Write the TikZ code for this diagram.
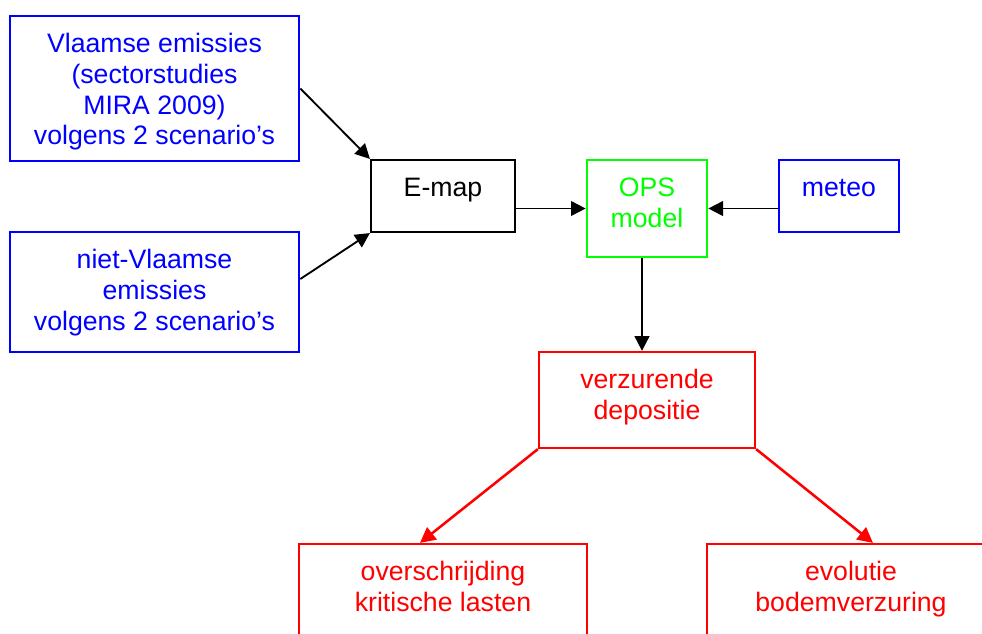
\documentclass[tikz,border=0pt]{standalone}
\usepackage{fontspec}
\setmainfont{Liberation Sans}
\usetikzlibrary{arrows.meta,calc}

\definecolor{boxblue}{RGB}{0,0,255}
\definecolor{boxgreen}{RGB}{0,255,0}
\definecolor{boxred}{RGB}{255,0,0}

\tikzset{
  % box size given in drawing units (1 unit = 0.75pt)
  sz/.style 2 args={minimum width=#1*0.75pt, minimum height=#2*0.75pt},
  frame/.style={draw, rectangle, inner sep=0pt, line width=2pt},
  bluebox/.style={frame, draw=boxblue},
  greenbox/.style={frame, draw=boxgreen},
  redbox/.style={frame, draw=boxred, line width=1.7pt},
  blackbox/.style={frame, draw=black, line width=1.6pt},
  caption/.style={anchor=north, align=center, inner sep=0pt,
    font=\fontsize{20}{23}\selectfont},
  arr/.style={line width=1.4pt, -{Triangle[length=11pt, width=11pt]}},
  redarr/.style={draw=boxred, line width=1.9pt,
    -{Triangle[length=11.5pt, width=11.5pt]}},
}

\begin{document}
\begin{tikzpicture}[x=0.75pt, y=-0.75pt]
  \useasboundingbox (0,0) rectangle (982,633);
  \clip (0,0) rectangle (982,633);

  % source boxes
  \node[bluebox, sz={289}{145}] (vla) at (154.5,88.5) {};
  \node[caption, text=boxblue] (vlat) at (154.5,31)
    {\strut Vlaamse emissies\\(sectorstudies\\MIRA 2009)\\volgens 2 scenario’s};

  \node[bluebox, sz={289}{120}] (nvla) at (154.5,292) {};
  \node[caption, text=boxblue] (nvlat) at (154.5,247)
    {\strut niet-Vlaamse\\emissies\\volgens 2 scenario’s};

  % processing chain
  \node[blackbox, sz={144}{72}] (emap) at (443,196) {};
  \node[caption] (emapt) at (443,175) {\strut E-map};

  \node[greenbox, sz={120}{97}] (ops) at (647,208.5) {};
  \node[caption, text=boxgreen] (opst) at (647,175) {\strut OPS\\model};

  \node[bluebox, sz={120}{72}] (meteo) at (839,196) {};
  \node[caption, text=boxblue] (meteot) at (839,175) {\strut meteo};

  % results
  \node[redbox, sz={216}{96}] (verz) at (647,400) {};
  \node[caption, text=boxred] (verzt) at (647,367) {\strut verzurende\\depositie};

  \node[redbox, sz={288}{130}] (over) at (443,609) {};
  \node[caption, text=boxred] (overt) at (443,559) {\strut overschrijding\\kritische lasten};

  \node[redbox, sz={288}{130}] (evol) at (851,609) {};
  \node[caption, text=boxred] (evolt) at (851,559) {\strut evolutie\\bodemverzuring};

  % connectors
  \draw[arr] (vla.east) -- (emap.north west);
  \draw[arr] ($(nvla.east)+(0,-13)$) -- (emap.south west);
  \draw[arr] ($(emap.east)+(0,12.5)$) -- (ops.west);
  \draw[arr] ($(meteo.west)+(0,12.5)$) -- (ops.east);
  \draw[arr] ($(ops.south)+(-5,0)$) -- ($(verz.north)+(-5,0)$);
  \draw[redarr] (verz.south west) -- ($(over.north)+(-23,0)$);
  \draw[redarr] (verz.south east) -- ($(evol.north)+(22,0)$);
\end{tikzpicture}
\end{document}
